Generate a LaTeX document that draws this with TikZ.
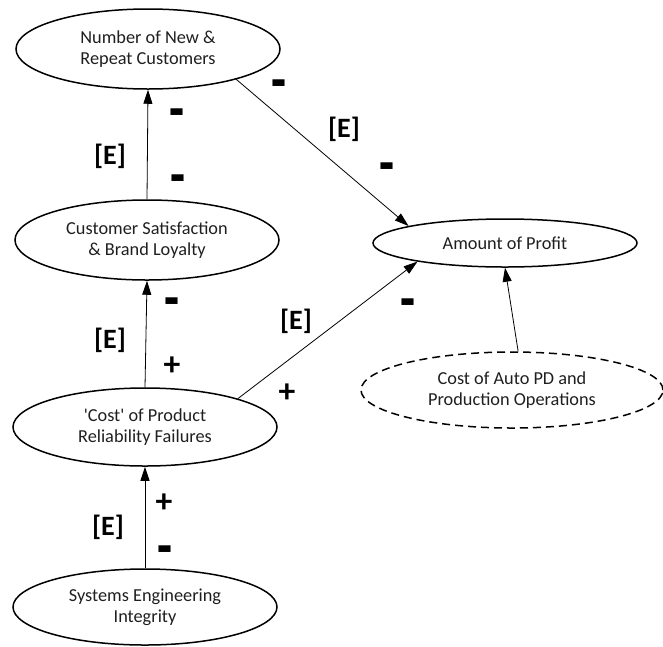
\documentclass[tikz,border=0pt]{standalone}
\usepackage{fontspec}
\setmainfont{Carlito}
\usetikzlibrary{shapes.geometric,arrows.meta}
\newcommand{\minusmark}{\scalebox{1.75}[2.3]{-}}
\newcommand{\plusmark}{\scalebox{1.2}{+}}
\begin{document}
\begin{tikzpicture}[x=1pt,y=-1pt,
  factor/.style={ellipse, draw, line width=1.5pt, inner sep=0pt, align=center,
    text=black!88, font=\fontsize{18.3}{21}\selectfont},
  link/.style={line width=0.8pt, -{Triangle[length=14pt,width=9pt]}},
  sign/.style={font=\bfseries\fontsize{28}{28}\selectfont, inner sep=0pt}
]
\useasboundingbox (0,0) rectangle (663,646);

% factors
\node[factor, minimum width=264pt, minimum height=80pt] (num) at (148,49)
  {Number of New \&\\Repeat Customers};
\node[factor, minimum width=264pt, minimum height=80pt] (sat) at (147,240)
  {Customer Satisfaction\\\& Brand Loyalty};
\node[factor, minimum width=264pt, minimum height=78pt] (rel) at (145,427)
  {\textquotesingle Cost\textquotesingle{} of Product\\Reliability Failures};
\node[factor, minimum width=264pt, minimum height=76pt] (sei) at (145,607)
  {Systems Engineering\\Integrity};
\node[factor, minimum width=264pt, minimum height=48pt] (profit) at (505,243)
  {Amount of Profit};
\node[factor, dashed, dash pattern=on 8pt off 5pt, minimum width=302pt, minimum height=76pt] (ops) at (512,390)
  {Cost of Auto PD and\\Production Operations};

% influence links
\draw[link] (sat.90) -- (num.270);
\draw[link] (num.-19) -- (profit.170);
\draw[link] (rel.90) -- (sat.270);
\draw[link] (rel.17) -- (profit.192);
\draw[link] (ops.81) -- (profit.270);
\draw[link] (sei.90) -- (rel.270);

% polarity and evidence marks
\node[sign] (s1) at (177,120) {\minusmark};
\node[sign] (e1) at (110,156) {[E]};
\node[sign] (s2) at (178,186) {\minusmark};

\node[sign] (s3) at (279,91) {\minusmark};
\node[sign] (e2) at (344,129) {[E]};
\node[sign] (s4) at (387,174) {\minusmark};

\node[sign] (s5) at (172,309) {\minusmark};
\node[sign] (e3) at (110,340) {[E]};
\node[sign] (s6) at (172,366) {\plusmark};

\node[sign] (e4) at (296,321) {[E]};
\node[sign] (s7) at (287,393) {\plusmark};
\node[sign] (s8) at (408,310) {\minusmark};

\node[sign] (s9) at (164,503) {\plusmark};
\node[sign] (e5) at (108,527) {[E]};
\node[sign] (s10) at (165,557) {\minusmark};
\end{tikzpicture}
\end{document}
